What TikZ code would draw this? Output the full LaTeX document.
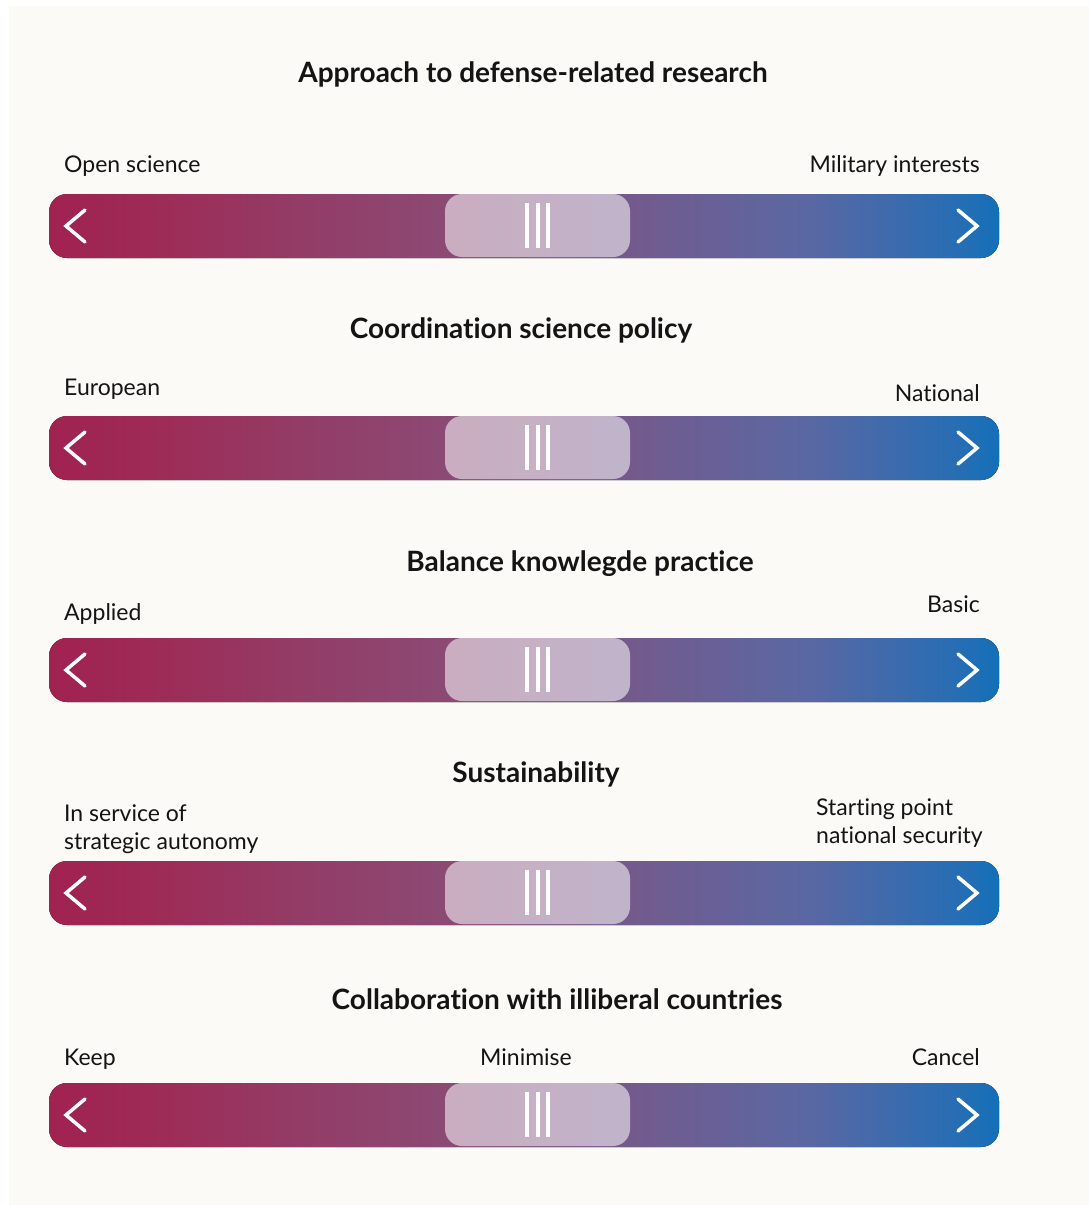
\documentclass[tikz,border=0pt]{standalone}
\usepackage{fontspec}
\setmainfont{Lato}[Ligatures=NoCommon]
\usepackage{xcolor}
\usepackage{tikz}
\usetikzlibrary{calc}

\definecolor{paper}{RGB}{251,250,247}
\definecolor{ink}{RGB}{20,20,20}
% crimson on the left, running through purple into blue on the right
\pgfdeclarehorizontalshading{barshade}{100bp}{rgb(0bp)=(0.627,0.133,0.314);
  rgb(25bp)=(0.627,0.133,0.314); rgb(30bp)=(0.620,0.165,0.333);
  rgb(38bp)=(0.576,0.235,0.400); rgb(46bp)=(0.545,0.290,0.455);
  rgb(55.6bp)=(0.451,0.353,0.549); rgb(64.5bp)=(0.361,0.404,0.635);
  rgb(72.4bp)=(0.165,0.427,0.702); rgb(75bp)=(0.078,0.439,0.722);
  rgb(100bp)=(0.078,0.439,0.722)}

\begin{document}
\begin{tikzpicture}[x=1pt, y=-1pt,
    heading/.style={font=\bfseries\fontsize{28}{32}\selectfont, text=ink, anchor=base, inner sep=0pt},
    endtext/.style={font=\fontsize{23}{28}\selectfont, text=ink, align=left, inner sep=0pt},
    grip/.style={white, line width=3.5pt},
    chevron/.style={white, line width=3.5pt, line cap=round, line join=miter}]
			\def\l{49};
			\def\r{999};
			\def\h{32};
			
			\useasboundingbox (0,0) rectangle (1089,1205);
			\fill[white] (0,0) rectangle (1089,1205);
			\fill[paper] (9,6) rectangle (1089,1205);
			
			% the five slider bars
			\foreach \y in {226,448,670,893,1115} {
				\fill[shading=barshade, rounded corners=18pt] (\l,{\y-\h}) rectangle (\r,{\y+\h});
				\fill[white, fill opacity=0.55, rounded corners=17pt] (445,{\y-\h}) rectangle (630,{\y+\h-1});
				\foreach \x in {527,538,548}
					\draw[grip] (\x,{\y-23}) -- (\x,{\y+22});
				\draw[chevron] (85,{\y-16}) -- (66,\y) -- (85,{\y+16});
				\draw[chevron] (958,{\y-16}) -- (977,\y) -- (958,{\y+16});
			}
			
			% headings
			\node[heading] (head1) at (533,82) {Approach to defense-related research};
			\node[heading] (head2) at (521,338) {Coordination science policy};
			\node[heading] (head3) at (580,571) {Balance knowlegde practice};
			\node[heading] (head4) at (536,782) {Sustainability};
			\node[heading] (head5) at (557,1009) {Collaboration with illiberal countries};
			
			% end points of each scale
			\node[endtext, anchor=base west] (left1) at (64,172) {Open science};
			\node[endtext, anchor=base east] (right1) at (980,172) {Military interests};
			\node[endtext, anchor=base west] (left2) at (64,395) {European};
			\node[endtext, anchor=base east] (right2) at (980,401) {National};
			\node[endtext, anchor=base west] (left3) at (64,620) {Applied};
			\node[endtext, anchor=base east] (right3) at (980,612) {Basic};
			\node[endtext, anchor=north west] (left4) at (64,805) {In service of\\strategic autonomy};
			\node[endtext, anchor=north west] (right4) at (816,799) {Starting point\\national security};
			\node[endtext, anchor=base west] (left5) at (64,1065) {Keep};
			\node[endtext, anchor=base] (mid5) at (526,1065) {Minimise};
			\node[endtext, anchor=base east] (right5) at (980,1065) {Cancel};
		\end{tikzpicture}
\end{document}
